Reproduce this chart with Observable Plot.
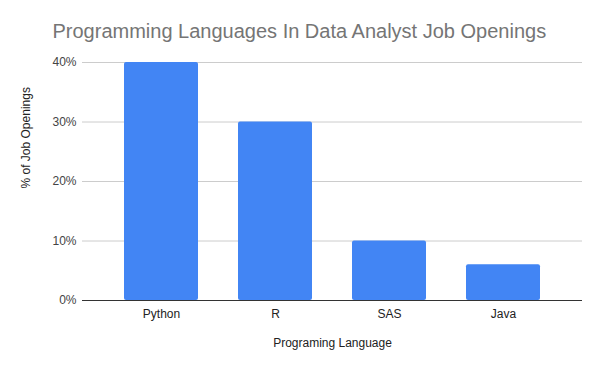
<!DOCTYPE html>
<html>
<head>
<meta charset="utf-8">
<script src="https://cdn.jsdelivr.net/npm/d3@7"></script>
<script src="https://cdn.jsdelivr.net/npm/@observablehq/plot@0.6"></script>
<style>
  html, body { margin: 0; padding: 0; background: #fff; }
  #chart svg { display: block; }
</style>
</head>
<body>
<div id="chart"></div>
<script>
const languages = ["Python", "R", "SAS", "Java"];
const shares = [0.40, 0.30, 0.10, 0.06];
const yTicks = [0, 0.1, 0.2, 0.3, 0.4];
const titleText = "Programming Languages In Data Analyst Job Openings";

const data = languages.map((lang, i) => ({language: lang, share: shares[i]}));

const chart = Plot.plot({
  width: 600,
  height: 371,
  marginLeft: 82,
  marginRight: 18,
  marginTop: 62,
  marginBottom: 71,
  style: {fontFamily: "'Liberation Sans', Arial, sans-serif", fontSize: "12px", color: "#444", background: "#fff"},
  x: {domain: languages, padding: 0.35, label: null},
  y: {domain: [0, 0.4], label: null},
  marks: [
    Plot.gridY(yTicks, {stroke: "#cccccc", strokeOpacity: 1}),
    Plot.barY(data, {x: "language", y: "share", fill: "#4285F4", rx: 2}),
    Plot.ruleY([0], {stroke: "#333333", strokeWidth: 1.2}),
    Plot.axisY(yTicks, {tickFormat: d => Math.round(d * 100) + "%", tickSize: 0, tickPadding: 6, fontSize: 12, fill: "#444", label: null}),
    Plot.axisX({tickSize: 0, tickPadding: 9, fontSize: 12, fill: "#222", label: null}),
    Plot.text(["Programing Language"], {frameAnchor: "bottom", dy: 46, fontSize: 12, fill: "#222"}),
    Plot.text(["% of Job Openings"], {frameAnchor: "left", dx: -56, dy: 7, rotate: -90, fontSize: 12, fill: "#222"}),
    Plot.text([titleText], {frameAnchor: "top-left", dx: -30, dy: -39, textAnchor: "start", fontSize: 20, fill: "#757575"})
  ]
});
document.getElementById("chart").appendChild(chart);
</script>
</body>
</html>
